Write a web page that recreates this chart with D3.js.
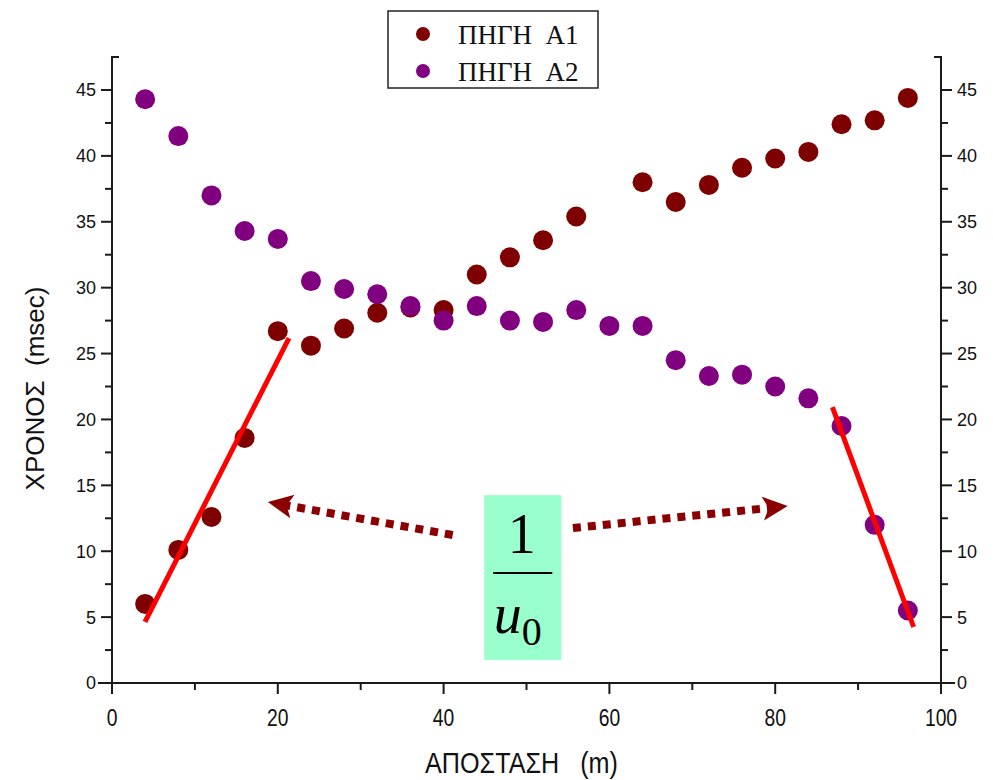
<!DOCTYPE html>
<html>
<head>
<meta charset="utf-8">
<script src="https://cdn.jsdelivr.net/npm/d3@7"></script>
<style>
  html, body { margin: 0; padding: 0; background: #fff; }
  svg text { white-space: pre; }
</style>
</head>
<body>
<div id="chart"></div>
<script>
// data
const distances = [4, 8, 12, 16, 20, 24, 28, 32, 36, 40, 44, 48, 52, 56, 60, 64, 68, 72, 76, 80, 84, 88, 92, 96];
// A1 has no point at 60 m
const timesA1 = [6.0, 10.1, 12.6, 18.6, 26.7, 25.6, 26.9, 28.1, 28.5, 28.3, 31.0, 32.3, 33.6, 35.4, null, 38.0, 36.5, 37.8, 39.1, 39.8, 40.3, 42.4, 42.7, 44.4];
const timesA2 = [44.3, 41.5, 37.0, 34.3, 33.7, 30.5, 29.9, 29.5, 28.6, 27.5, 28.6, 27.5, 27.4, 28.3, 27.1, 27.1, 24.5, 23.3, 23.4, 22.5, 21.6, 19.5, 12.0, 5.5];
const seriesNames = ["ΠΗΓΗ  A1", "ΠΗΓΗ  A2"];
const seriesColors = ["#7f0000", "#800080"];
const xTicks = [0, 20, 40, 60, 80, 100];
const yTicks = [0, 5, 10, 15, 20, 25, 30, 35, 40, 45];

// annotations in data units
const fitLines = [
  [[3.98, 4.63], [21.35, 26.18]],
  [[86.9, 20.94], [96.7, 4.25]]
];
const arrows = [
  [[41.1, 11.23], [18.8, 13.73]],
  [[55.6, 11.76], [81.5, 13.43]]
];
const noteBox = { x0: 44.9, x1: 54.2, y0: 14.26, y1: 1.75 };

const W = 993, H = 780;
const x = d3.scaleLinear().domain([0, 100]).range([112, 941]);
const y = d3.scaleLinear().domain([0, 45]).range([683, 90]);

const svg = d3.select("#chart").append("svg")
  .attr("width", W).attr("height", H)
  .style("font-family", "Arial, 'Liberation Sans', sans-serif");

const axisColor = "#1a1a1a";
const narrow = 0.84; // condensed look of the x labels

// --- axes lines
const yTop = y(47.5), yBottom = y(0) + 11;
svg.append("line").attr("x1", x(-1.7)).attr("x2", x(101.7)).attr("y1", y(0)).attr("y2", y(0))
  .attr("stroke", axisColor).attr("stroke-width", 2);
svg.append("path").attr("d", `M${x(0) + 7},${yTop}H${x(0)}V${yBottom}`)
  .attr("fill", "none").attr("stroke", axisColor).attr("stroke-width", 2);
svg.append("path").attr("d", `M${x(100) - 7},${yTop}H${x(100)}V${yBottom}`)
  .attr("fill", "none").attr("stroke", axisColor).attr("stroke-width", 2);

// x ticks (major + minor)
const xt = svg.append("g");
d3.range(0, 101, 10).forEach(v => {
  const major = v % 20 === 0;
  xt.append("line").attr("x1", x(v)).attr("x2", x(v))
    .attr("y1", y(0)).attr("y2", y(0) + (major ? 11 : 7))
    .attr("stroke", axisColor).attr("stroke-width", 2);
});
xt.selectAll("text").data(xTicks).join("text")
  .attr("transform", d => `translate(${x(d)},${y(0) + 43}) scale(${narrow},1)`)
  .attr("text-anchor", "middle")
  .style("font-size", "23px").attr("fill", "#111")
  .text(d => d);

// y ticks, left and right
[[x(0), -1], [x(100), 1]].forEach(([ax, dir]) => {
  const g = svg.append("g");
  d3.range(0, 46, 2.5).forEach(v => {
    const major = v % 5 === 0;
    g.append("line").attr("x1", ax).attr("x2", ax + dir * (major ? 11 : 7))
      .attr("y1", y(v)).attr("y2", y(v))
      .attr("stroke", axisColor).attr("stroke-width", 2);
  });
  g.selectAll("text").data(yTicks).join("text")
    .attr("x", ax + dir * 16).attr("y", d => y(d)).attr("dy", "0.36em")
    .attr("text-anchor", dir < 0 ? "end" : "start")
    .style("font-size", "18px").attr("fill", "#111")
    .text(d => d);
});

// axis titles
svg.append("text")
  .attr("transform", `translate(${(x(0) + x(100)) / 2 - 5},773) scale(${narrow},1)`)
  .attr("text-anchor", "middle")
  .style("font-size", "30px").attr("fill", "#111")
  .text("ΑΠΟΣΤΑΣΗ   (m)");
svg.append("text").attr("transform", `translate(44,${y(22.5) + 2}) rotate(-90)`)
  .attr("text-anchor", "middle")
  .style("font-size", "26px").attr("fill", "#111")
  .text("ΧΡΟΝΟΣ  (msec)");

// markers
const seriesData = [timesA1, timesA2].map(vals =>
  distances.map((d, i) => ({ d, t: vals[i] })).filter(p => p.t != null));
seriesData.forEach((pts, i) => {
  svg.append("g").selectAll("circle").data(pts).join("circle")
    .attr("cx", p => x(p.d)).attr("cy", p => y(p.t)).attr("r", 10)
    .attr("fill", seriesColors[i]);
});

// red fit lines
svg.append("g").selectAll("line").data(fitLines).join("line")
  .attr("x1", d => x(d[0][0])).attr("y1", d => y(d[0][1]))
  .attr("x2", d => x(d[1][0])).attr("y2", d => y(d[1][1]))
  .attr("stroke", "#ff0000").attr("stroke-width", 5);

// dotted arrows
const arrowColor = "#8b0000";
arrows.forEach(([a, b]) => {
  const x1 = x(a[0]), y1 = y(a[1]), x2 = x(b[0]), y2 = y(b[1]);
  const ang = Math.atan2(y2 - y1, x2 - x1);
  const headLen = 25, headW = 12;
  const bx = x2 - Math.cos(ang) * headLen, by = y2 - Math.sin(ang) * headLen;
  svg.append("line").attr("x1", x1).attr("y1", y1)
    .attr("x2", bx + Math.cos(ang) * 7).attr("y2", by + Math.sin(ang) * 7)
    .attr("stroke", arrowColor).attr("stroke-width", 8)
    .attr("stroke-dasharray", "8,7");
  const px = -Math.sin(ang), py = Math.cos(ang);
  svg.append("path")
    .attr("d", `M${x2},${y2}L${bx + px * headW},${by + py * headW}L${bx + Math.cos(ang) * 6},${by + Math.sin(ang) * 6}L${bx - px * headW},${by - py * headW}Z`)
    .attr("fill", arrowColor);
});

// 1/u0 box
const bx0 = x(noteBox.x0), bx1 = x(noteBox.x1), by0 = y(noteBox.y0), by1 = y(noteBox.y1);
svg.append("rect").attr("x", bx0).attr("y", by0)
  .attr("width", bx1 - bx0).attr("height", by1 - by0).attr("fill", "#99ffcc");
const cx = (bx0 + bx1) / 2 - 1;
const serif = "'Liberation Serif', 'Times New Roman', serif";
svg.append("text").attr("x", cx).attr("y", by0 + 58).attr("text-anchor", "middle")
  .style("font-family", serif).style("font-size", "56px").attr("fill", "#000").text("1");
svg.append("line").attr("x1", bx0 + 9).attr("x2", bx1 - 9)
  .attr("y1", by0 + 78).attr("y2", by0 + 78).attr("stroke", "#000").attr("stroke-width", 2);
const u = svg.append("text").attr("x", cx - 4).attr("y", by0 + 138).attr("text-anchor", "middle")
  .style("font-family", serif).attr("fill", "#000");
u.append("tspan").style("font-style", "italic").style("font-size", "56px").text("u");
u.append("tspan").attr("dy", 12).style("font-size", "40px").text("0");

// legend
const lg = svg.append("g");
lg.append("rect").attr("x", 388).attr("y", 11).attr("width", 210).attr("height", 77)
  .attr("fill", "#fff").attr("stroke", "#222").attr("stroke-width", 1.5);
seriesNames.forEach((name, i) => {
  const ly = 34 + i * 37;
  lg.append("circle").attr("cx", 423).attr("cy", ly).attr("r", 7).attr("fill", seriesColors[i]);
  lg.append("text").attr("x", 458).attr("y", ly + 10)
    .style("font-family", serif).style("font-size", "27px").attr("fill", "#111")
    .text(name);
});
</script>
</body>
</html>
